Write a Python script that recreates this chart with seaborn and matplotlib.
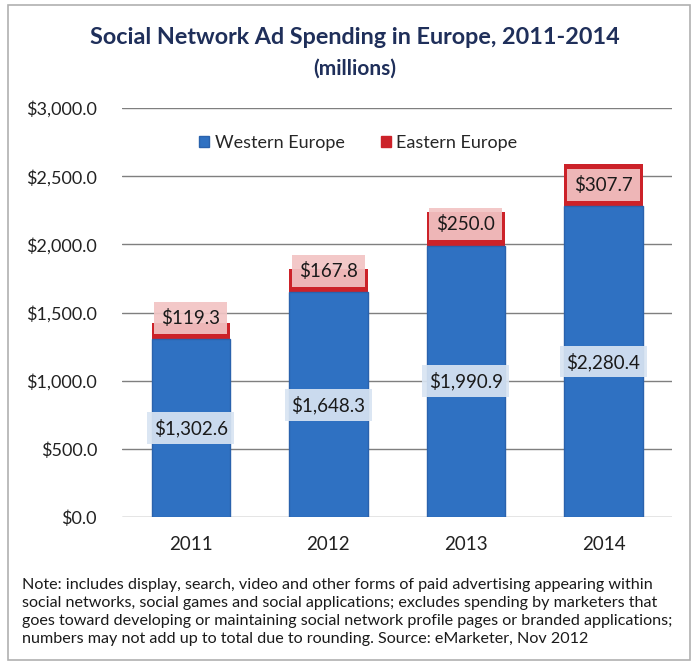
import matplotlib
matplotlib.use("Agg")
import matplotlib.pyplot as plt
import seaborn as sns
import pandas as pd
from matplotlib.patches import Rectangle, Patch

years = ["2011", "2012", "2013", "2014"]
western = [1302.6, 1648.3, 1990.9, 2280.4]
eastern = [119.3, 167.8, 250.0, 307.7]
yticks = [0, 500, 1000, 1500, 2000, 2500, 3000]
title = "Social Network Ad Spending in Europe, 2011-2014"
subtitle = "(millions)"
note = ("Note: includes display, search, video and other forms of paid advertising appearing within\n"
        "social networks, social games and social applications; excludes spending by marketers that\n"
        "goes toward developing or maintaining social network profile pages or branded applications;\n"
        "numbers may not add up to total due to rounding. Source: eMarketer, Nov 2012")

sns.set_theme(style="white")
plt.rcParams['font.family'] = ['Lato', 'DejaVu Sans']

df = pd.DataFrame({"year": years, "western": western, "eastern": eastern})
df["total"] = df["western"] + df["eastern"]

fig = plt.figure(figsize=(6.93, 6.63), dpi=100)
ax = fig.add_axes([0.176, 0.2202, 0.794, 0.6168])

blue = "#2F71C2"
red = "#CC2229"
sns.barplot(data=df, x="year", y="total", color=red, width=0.57, saturation=1,
            edgecolor=red, linewidth=0, ax=ax, zorder=3)
sns.barplot(data=df, x="year", y="western", color=blue, width=0.57, saturation=1,
            edgecolor="#2A62AD", linewidth=1.0, ax=ax, zorder=4)

ax.set_ylim(0, 3000)
ax.set_xlim(-0.5, 3.5)
ax.set_yticks(yticks)
ax.set_yticklabels([f"${v:,.1f}" for v in yticks], fontsize=13, color="#222222")
ax.tick_params(axis="y", length=0, pad=18)
ax.tick_params(axis="x", length=0, pad=14, labelsize=13.5, labelcolor="#222222")
ax.set_xlabel("")
ax.set_ylabel("")
for s in ax.spines.values():
    s.set_visible(False)
ax.yaxis.grid(True, color="#7f7f7f", linewidth=1.0, zorder=0)
ax.set_axisbelow(True)

for i, (w, e) in enumerate(zip(western, eastern)):
    ax.text(i, w / 2, f"${w:,.1f}", ha="center", va="center", fontsize=13.5, color="#1a1a1a",
            zorder=6, bbox=dict(boxstyle="square,pad=0.35", fc="#D8E4F2", ec="none", alpha=0.92))
    ax.annotate(f"${e:,.1f}", xy=(i, w), xytext=(0, 15.5), textcoords="offset points",
                ha="center", va="center", fontsize=13.5, color="#1a1a1a", zorder=6,
                bbox=dict(boxstyle="square,pad=0.38", fc="#F2C4C4", ec="none", alpha=0.92))

fig.text(0.512, 0.943, title, ha="center", va="center", fontsize=16.8, fontweight="bold", color="#1F2F5A")
fig.text(0.512, 0.896, subtitle, ha="center", va="center", fontsize=15, fontweight="bold", color="#1F2F5A")

handles = [Patch(facecolor=blue, edgecolor="#2A62AD", label="Western Europe"),
           Patch(facecolor=red, edgecolor=red, label="Eastern Europe")]
fig.legend(handles=handles, loc="center", bbox_to_anchor=(0.517, 0.784), ncol=2, frameon=False,
           fontsize=13, handlelength=0.55, handleheight=0.55, handletextpad=0.3, columnspacing=2.0)

fig.text(0.032, 0.077, note, ha="left", va="center", fontsize=11.6, color="#1a1a1a",
         linespacing=1.35)

fig.patches.append(Rectangle((0.011, 0.005), 0.984, 0.987, transform=fig.transFigure,
                             fill=False, edgecolor="#b0b0b0", linewidth=1.2))

fig.savefig("out.png", dpi=100)
